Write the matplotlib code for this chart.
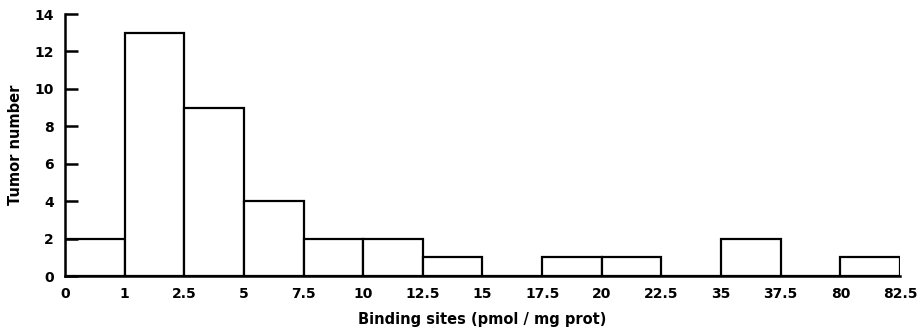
import matplotlib
matplotlib.use('Agg')
import matplotlib.pyplot as plt
import numpy as np

# bin edges as printed on the x axis (unequal bins, drawn at equal spacing)
edge_labels = ['0', '1', '2.5', '5', '7.5', '10', '12.5', '15', '17.5',
               '20', '22.5', '35', '37.5', '80', '82.5']
# number of tumors in each bin
counts = [2, 13, 9, 4, 2, 2, 1, 0, 1, 1, 0, 2, 0, 1]

fig = plt.figure(figsize=(9.2, 3.36), dpi=100)
ax = fig.add_axes([65/920, 1 - 276/336, 835/920, 262/336])

pos = np.arange(len(counts))
ax.bar(pos, counts, width=1, align='edge', facecolor='white',
       edgecolor='black', linewidth=1.6)

ax.set_xlim(0, len(counts))
ax.set_ylim(0, 14)
ax.set_xticks(np.arange(len(edge_labels)))
ax.set_xticklabels(edge_labels)
ax.set_yticks(np.arange(0, 15, 2))

for s in ['top', 'right']:
    ax.spines[s].set_visible(False)
for s in ['left', 'bottom']:
    ax.spines[s].set_linewidth(1.8)
    ax.spines[s].set_capstyle('projecting')

ax.tick_params(axis='y', direction='in', length=9, width=1.8, pad=8,
               labelsize=10)
ax.tick_params(axis='x', length=0, pad=8, labelsize=10)
for lab in ax.get_xticklabels() + ax.get_yticklabels():
    lab.set_fontweight('bold')

ax.set_ylabel('Tumor number', fontsize=10.5, fontweight='semibold', labelpad=8)
ax.set_xlabel('Binding sites (pmol / mg prot)', fontsize=10.5,
              fontweight='semibold', labelpad=8)

fig.savefig('out.png', dpi=100)
